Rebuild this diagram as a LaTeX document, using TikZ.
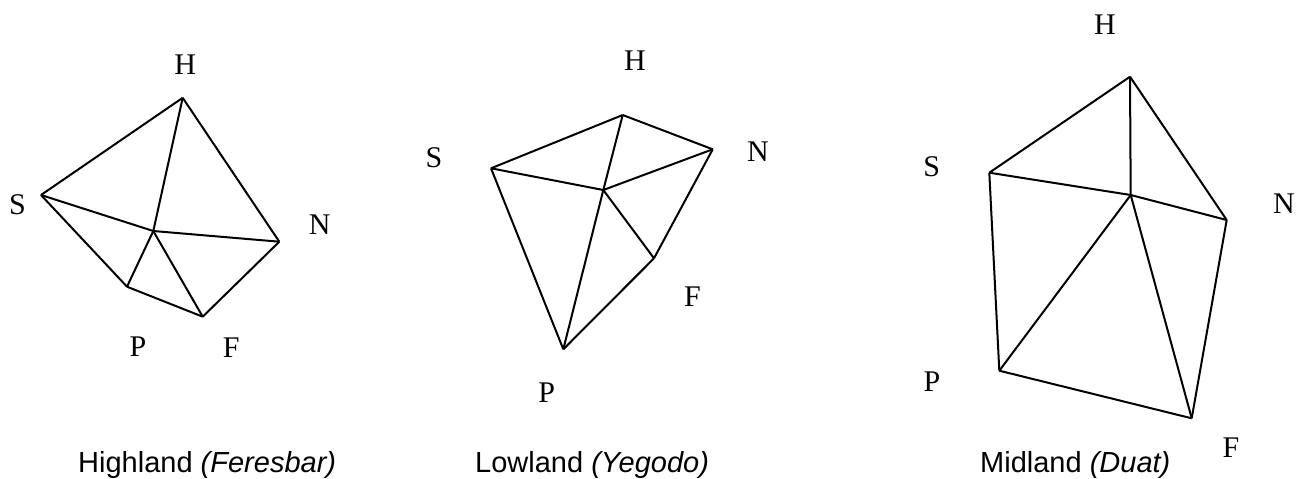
\documentclass[tikz,border=0pt]{standalone}
\usepackage{fontspec}
\setmainfont{Liberation Serif}
\newfontfamily\capfont{Liberation Sans}
\begin{document}
\begin{tikzpicture}[x=1pt,y=-1pt,
  edge/.style={line width=2pt,line join=miter},
  vlabel/.style={inner sep=0pt,font=\fontsize{30}{36}\selectfont},
  caption/.style={inner sep=0pt,anchor=base west,font=\capfont\fontsize{29}{34}\selectfont}]
\useasboundingbox (0,0) rectangle (1301,479);
% ---------- Highland ----------
\coordinate (aH) at (182.7,97.8);
\coordinate (aS) at (41,195);
\coordinate (aC) at (153.3,231);
\coordinate (aN) at (279.3,241.7);
\coordinate (aP) at (127,286.7);
\coordinate (aF) at (202.7,316.7);
\draw[edge] (aH) -- (aS);
\draw[edge] (aH) -- (aN);
\draw[edge] (aH) -- (aC);
\draw[edge] (aS) -- (aC);
\draw[edge] (aC) -- (aN);
\draw[edge] (aS) -- (aP);
\draw[edge] (aC) -- (aP);
\draw[edge] (aC) -- (aF);
\draw[edge] (aP) -- (aF);
\draw[edge] (aF) -- (aN);
\node[vlabel] (laH) at (185.3,64.5) {H};
\node[vlabel] (laS) at (17.5,205) {S};
\node[vlabel] (laN) at (319.7,225) {N};
\node[vlabel] (laP) at (138,346.7) {P};
\node[vlabel] (laF) at (231.3,347.5) {F};
\node[caption] (capA) at (78,472) {Highland \textit{(Feresbar)}};
% ---------- Lowland ----------
\coordinate (bH) at (622.7,115);
\coordinate (bS) at (491,168.3);
\coordinate (bN) at (712.7,149.3);
\coordinate (bC) at (603.3,190);
\coordinate (bF) at (654,258.3);
\coordinate (bP) at (563.3,349.3);
\draw[edge] (bS) -- (bH);
\draw[edge] (bH) -- (bN);
\draw[edge] (bS) -- (bC);
\draw[edge] (bH) -- (bC);
\draw[edge] (bC) -- (bN);
\draw[edge] (bS) -- (bP);
\draw[edge] (bC) -- (bP);
\draw[edge] (bC) -- (bF);
\draw[edge] (bN) -- (bF);
\draw[edge] (bF) -- (bP);
\node[vlabel] (lbH) at (635,60.5) {H};
\node[vlabel] (lbS) at (434,157.5) {S};
\node[vlabel] (lbN) at (758,152) {N};
\node[vlabel] (lbF) at (692.5,296.7) {F};
\node[vlabel] (lbP) at (546.7,392.5) {P};
\node[caption] (capB) at (475,472) {Lowland \textit{(Yegodo)}};
% ---------- Midland ----------
\coordinate (cH) at (1130,76.7);
\coordinate (cS) at (989.3,172.7);
\coordinate (cC) at (1130.7,195);
\coordinate (cN) at (1226.7,220);
\coordinate (cP) at (999.3,370.7);
\coordinate (cF) at (1191.7,418.3);
\draw[edge] (cH) -- (cS);
\draw[edge] (cH) -- (cN);
\draw[edge] (cH) -- (cC);
\draw[edge] (cS) -- (cC);
\draw[edge] (cC) -- (cN);
\draw[edge] (cS) -- (cP);
\draw[edge] (cC) -- (cP);
\draw[edge] (cC) -- (cF);
\draw[edge] (cN) -- (cF);
\draw[edge] (cP) -- (cF);
\node[vlabel] (lcH) at (1105,25) {H};
\node[vlabel] (lcS) at (931.7,167) {S};
\node[vlabel] (lcN) at (1284,204) {N};
\node[vlabel] (lcP) at (932,381.7) {P};
\node[vlabel] (lcF) at (1231,448) {F};
\node[caption] (capC) at (980,472) {Midland \textit{(Duat)}};
\end{tikzpicture}
\end{document}
